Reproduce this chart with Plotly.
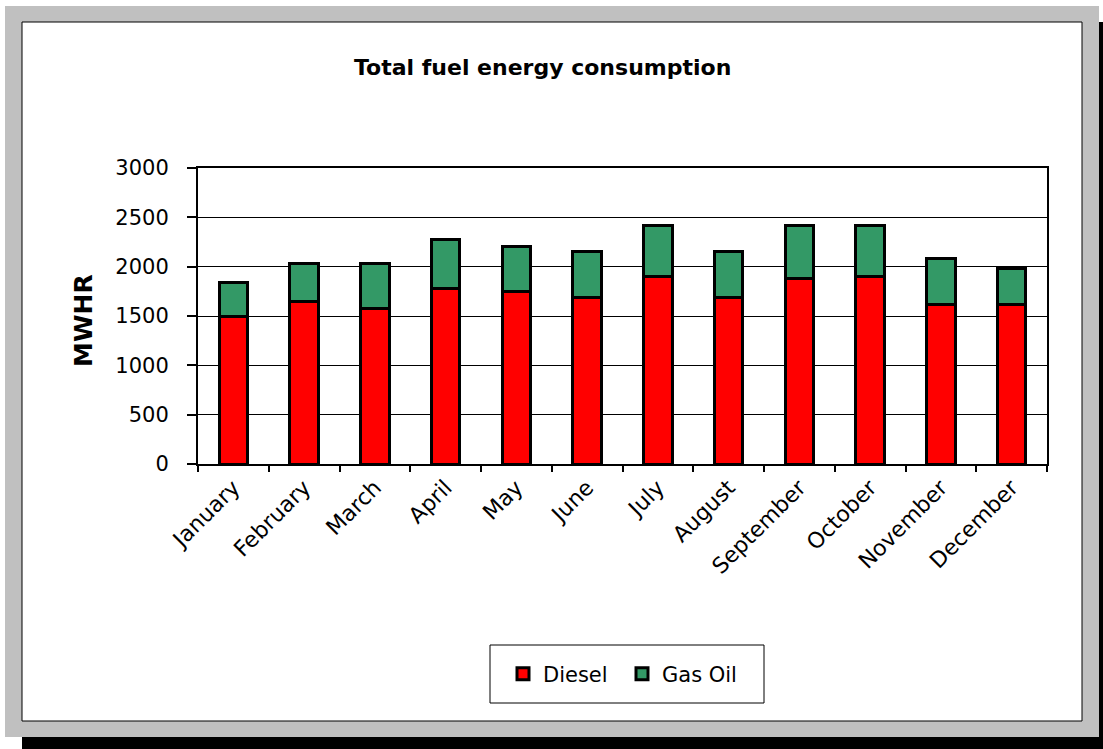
import plotly.graph_objects as go

# Monthly energy consumption (MWHR)
months = ["January", "February", "March", "April", "May", "June",
          "July", "August", "September", "October", "November", "December"]
diesel = [1500, 1645, 1580, 1780, 1745, 1685, 1900, 1685, 1880, 1900, 1615, 1615]
gas_oil = [340, 390, 450, 500, 455, 465, 520, 465, 540, 520, 465, 365]

y_ticks = [0, 500, 1000, 1500, 2000, 2500, 3000]

W, H = 1103, 749
L, R, T, B = 198, 1047, 168, 464  # plot-area edges in pixels
FONT = "DejaVu Sans, Liberation Sans, Arial, sans-serif"


def px(x):
    return (x - L) / (R - L)


def py(y):
    return (B - y) / (B - T)


fig = go.Figure()
fig.add_trace(go.Bar(
    x=months, y=diesel, name="Diesel",
    marker=dict(color="#FF0000", line=dict(color="black", width=3)),
))
fig.add_trace(go.Bar(
    x=months, y=gas_oil, name="Gas Oil",
    marker=dict(color="#339966", line=dict(color="black", width=3)),
))

shapes = [
    # drop shadow, grey frame and white panel
    dict(type="rect", xref="paper", yref="paper", layer="below",
         x0=px(22), x1=px(W + 5), y0=py(22), y1=py(H + 5),
         fillcolor="black", line=dict(width=0)),
    dict(type="rect", xref="paper", yref="paper", layer="below",
         x0=px(5), x1=px(1099), y0=py(6), y1=py(737),
         fillcolor="#C0C0C0", line=dict(width=0)),
    dict(type="rect", xref="paper", yref="paper", layer="below",
         x0=px(22), x1=px(1082), y0=py(22), y1=py(721),
         fillcolor="white", line=dict(color="black", width=1)),
    # legend box
    dict(type="rect", xref="paper", yref="paper", layer="above",
         x0=px(490), x1=px(764), y0=py(645), y1=py(703),
         fillcolor="rgba(0,0,0,0)", line=dict(color="black", width=1)),
]

annotations = [
    dict(text="<b>Total fuel energy consumption</b>", xref="paper", yref="paper",
         x=px(542), y=py(68), xanchor="center", yanchor="middle", showarrow=False,
         font=dict(family=FONT, size=22, color="black")),
    dict(text="<b>MWHR</b>", xref="paper", yref="paper", textangle=-90,
         x=px(83), y=py(321), xanchor="center", yanchor="middle", showarrow=False,
         font=dict(family=FONT, size=25, color="black")),
]

fig.update_layout(
    width=W, height=H,
    margin=dict(l=L, r=W - R, t=T, b=H - B, pad=0),
    paper_bgcolor="white",
    plot_bgcolor="rgba(0,0,0,0)",
    barmode="stack",
    bargap=0.6,
    font=dict(family=FONT, size=21, color="black"),
    shapes=shapes,
    annotations=annotations,
    showlegend=True,
    legend=dict(
        orientation="h", x=px(503), y=py(674), xanchor="left", yanchor="middle",
        bgcolor="rgba(0,0,0,0)", borderwidth=0, traceorder="normal",
        font=dict(family=FONT, size=21, color="black"),
        entrywidth=74, entrywidthmode="pixels",
    ),
    xaxis=dict(
        type="category", tickangle=-45, ticks="outside", ticklen=6,
        tickcolor="black", tickwidth=1.5, tickson="boundaries",
        showline=True, linecolor="black", linewidth=2, mirror=True,
        showgrid=False, tickfont=dict(family=FONT, size=22, color="black"),
    ),
    yaxis=dict(
        range=[0, 3000], tickvals=y_ticks, ticks="outside", ticklen=9,
        tickcolor="black", tickwidth=1.5, ticklabelstandoff=14,
        showline=True, linecolor="black", linewidth=2, mirror=True,
        showgrid=True, gridcolor="black", gridwidth=1, zeroline=False,
        tickfont=dict(family=FONT, size=21, color="black"),
    ),
)

fig.write_html("out.html", config=dict(displayModeBar=False))
